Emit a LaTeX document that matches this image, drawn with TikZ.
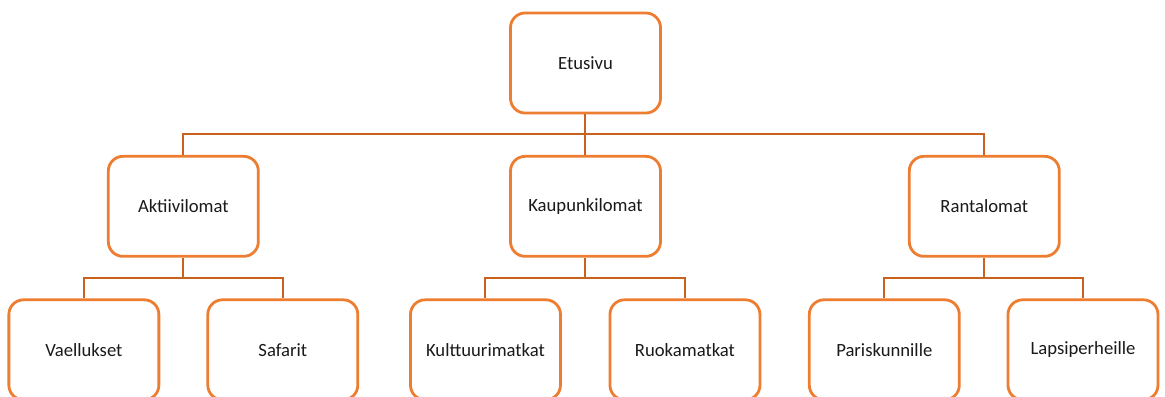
\documentclass[tikz,border=0pt]{standalone}
\usepackage{fontspec}
\setmainfont{Carlito}
\usetikzlibrary{positioning}
\definecolor{morange}{HTML}{ED7D31}
\definecolor{mlink}{HTML}{C9621F}
\definecolor{ink}{HTML}{1A1A1A}
\tikzset{
  every node/.style={font=\fontsize{14}{16}\selectfont, text=ink},
  page/.style={rectangle, rounded corners=11pt, draw=morange, fill=white, line width=2.1pt,
               minimum width=112.5pt, minimum height=75pt, align=center},
  lnk/.style ={draw=mlink, line width=1.5pt},
}
\begin{document}
\begin{tikzpicture}

\useasboundingbox (-439.1pt,47.25pt) rectangle (434.6pt,-249.75pt);

\node[page] (etusivu) at (0,0) {Etusivu};

\node[page, below=30.4pt of etusivu] (kaupunki) {Kaupunkilomat};
\node[page, left=187pt of kaupunki] (aktiivi) {Aktiivilomat};
\node[page, right=184.5pt of kaupunki] (ranta) {Rantalomat};

\node[page, below=30.5pt of aktiivi, xshift=-74.6pt] (vaellus) {Vaellukset};
\node[page, below=30.5pt of aktiivi, xshift=74.6pt] (safari) {Safarit};
\node[page, below=30.5pt of kaupunki, xshift=-75pt] (kulttuuri) {Kulttuurimatkat};
\node[page, below=30.5pt of kaupunki, xshift=74.6pt] (ruoka) {Ruokamatkat};
\node[page, below=30.5pt of ranta, xshift=-75pt] (paris) {Pariskunnille};
\node[page, below=30.5pt of ranta, xshift=74pt] (lapsi) {Lapsiperheille};

% tree lines
\draw[lnk] (etusivu.south) -- ++(0,-15pt) coordinate (bus0);
\draw[lnk] (bus0) -| (aktiivi.north);
\draw[lnk] (bus0) -| (ranta.north);
\draw[lnk] (bus0) -- (kaupunki.north);

\draw[lnk] (aktiivi.south) -- ++(0,-15pt) coordinate (bus1);
\draw[lnk] (bus1) -| (vaellus.north);
\draw[lnk] (bus1) -| (safari.north);

\draw[lnk] (kaupunki.south) -- ++(0,-15pt) coordinate (bus2);
\draw[lnk] (bus2) -| (kulttuuri.north);
\draw[lnk] (bus2) -| (ruoka.north);

\draw[lnk] (ranta.south) -- ++(0,-15pt) coordinate (bus3);
\draw[lnk] (bus3) -| (paris.north);
\draw[lnk] (bus3) -| (lapsi.north);

\end{tikzpicture}
\end{document}
